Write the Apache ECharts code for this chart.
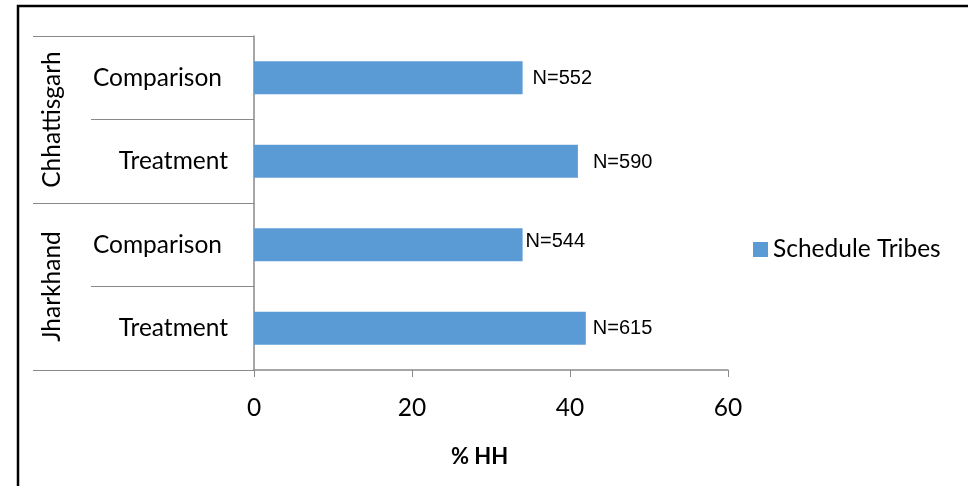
<!DOCTYPE html>
<html>
<head>
<meta charset="utf-8">
<script src="https://cdn.jsdelivr.net/npm/echarts@6/dist/echarts.min.js"></script>
<style>
  html, body { margin: 0; padding: 0; background: #fff; }
  #chart { width: 968px; height: 486px; }
</style>
</head>
<body>
<div id="chart"></div>
<script>
// Share of households (%), by state and study arm
const states = ['Chhattisgarh', 'Jharkhand'];
const arms = ['Comparison', 'Treatment', 'Comparison', 'Treatment'];
const seriesName = 'Schedule Tribes';
const pctHH = [34, 41, 34, 42];
const sampleN = [552, 590, 544, 615];
const xTicks = { min: 0, max: 60, interval: 20 };

// label gap after each bar end
const labelGap = [10, 15, 3, 7];
const labelShift = [1, 1, -3, 0];

const axisGray = '#898989';
const catFont = 'Lato, "Open Sans", sans-serif';
const catSize = 24.5;

const chart = echarts.init(document.getElementById('chart'), null, { renderer: 'canvas' });

const barData = pctHH.map((v, i) => ({
  value: v,
  label: { distance: labelGap[i], offset: [0, labelShift[i]] }
}));

chart.setOption({
  animation: false,
  backgroundColor: '#fff',
  grid: { left: 254, top: 36, width: 474, height: 334 },
  title: {
    text: '% HH',
    left: 451,
    top: 446,
    padding: 0,
    textStyle: { fontFamily: catFont, fontWeight: 'bold', fontSize: 22, color: '#000' }
  },
  legend: {
    left: 753,
    top: 237,
    padding: 0,
    itemWidth: 15,
    itemHeight: 15,
    icon: 'rect',
    data: [seriesName],
    textStyle: { fontFamily: catFont, fontSize: catSize, color: '#000' }
  },
  xAxis: {
    type: 'value',
    min: xTicks.min,
    max: xTicks.max,
    interval: xTicks.interval,
    splitLine: { show: false },
    axisLine: { show: true, lineStyle: { color: axisGray, width: 1.5 } },
    axisTick: { show: true, length: 7, lineStyle: { color: axisGray } },
    axisLabel: { margin: 26, fontFamily: catFont, fontSize: catSize, color: '#000' }
  },
  yAxis: [
    {
      type: 'category',
      inverse: true,
      data: arms,
      axisLine: { show: true, lineStyle: { color: axisGray, width: 1.5 } },
      axisTick: { show: true, interval: 0, length: 163, lineStyle: { color: axisGray } },
      axisLabel: {
        interval: 0,
        hideOverlap: false,
        margin: 26,
        fontFamily: catFont,
        fontSize: catSize,
        color: '#000',
        formatter: (v) => v === 'Comparison' ? '{c|' + v + '}' : '{t|' + v + '}',
        rich: {
          c: { fontFamily: catFont, fontSize: catSize, color: '#000', padding: [0, 6, 0, 0] },
          t: { fontFamily: catFont, fontSize: catSize, color: '#000' }
        }
      }
    },
    {
      type: 'category',
      inverse: true,
      position: 'left',
      offset: 163,
      data: states,
      axisLine: { show: false },
      axisTick: { show: true, interval: 0, length: 58, lineStyle: { color: axisGray } },
      axisLabel: {
        interval: 0,
        hideOverlap: false,
        rotate: 90,
        margin: 26,
        fontFamily: catFont,
        fontSize: catSize,
        color: '#000'
      }
    }
  ],
  series: [{
    name: seriesName,
    type: 'bar',
    yAxisIndex: 0,
    barWidth: 33,
    itemStyle: { color: '#5B9BD5' },
    data: barData,
    label: {
      show: true,
      position: 'right',
      fontFamily: '"Liberation Sans", Arial, sans-serif',
      fontSize: 20,
      color: '#000',
      formatter: (p) => 'N=' + sampleN[p.dataIndex]
    }
  }],
  graphic: [{
    type: 'rect',
    shape: { x: 18, y: 6, width: 1200, height: 800 },
    style: { fill: null, stroke: '#000', lineWidth: 2.5 },
    silent: true
  }]
});
</script>
</body>
</html>
